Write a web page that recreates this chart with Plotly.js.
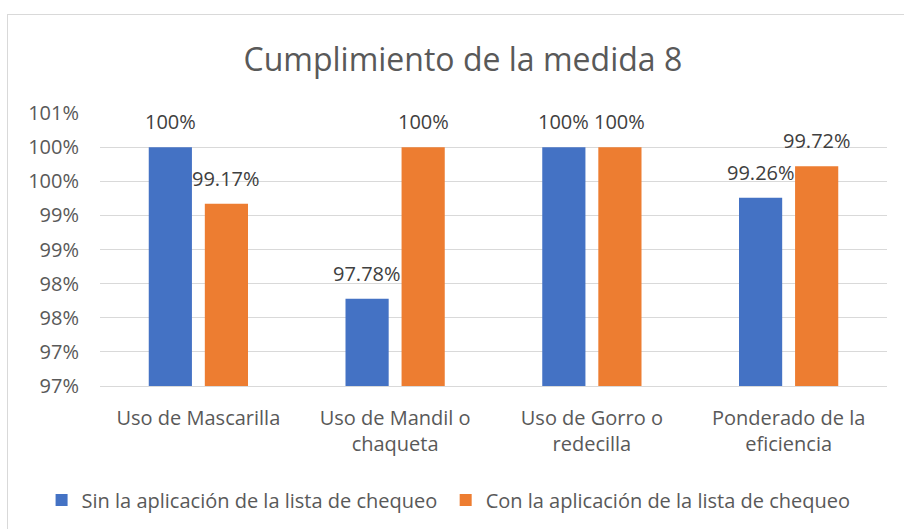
<!DOCTYPE html>
<html>
<head>
<meta charset="utf-8">
<script src="https://cdn.plot.ly/plotly-3.0.1.min.js"></script>
<style>
  body { margin: 0; background: #fff; }
  #frame { position: absolute; left: 7px; top: 14px; width: 1000px; height: 600px; border: 1px solid #d9d9d9; }
  #plot { position: absolute; left: 0; top: 0; width: 904px; height: 529px; }
</style>
</head>
<body>
<div id="frame"></div>
<div id="plot"></div>
<script>
// categories (x axis)
let categories = [
    "Uso de Mascarilla",
    "Uso de Mandil o<br>chaqueta",
    "Uso de Gorro o<br>redecilla",
    "Ponderado de la<br>eficiencia"
];

// percentages
let sinValues = [100, 97.78, 100, 99.26];
let conValues = [99.17, 100, 100, 99.72];

// y axis ticks - excel rounds the labels to whole percents
let tickValues = [96.5, 97, 97.5, 98, 98.5, 99, 99.5, 100, 100.5];
let tickLabels = ["97%", "97%", "98%", "98%", "99%", "99%", "100%", "100%", "101%"];

// label text like excel shows it
function pctLabel(v) {
    return (v === Math.round(v) ? v.toString() : v.toFixed(2)) + "%";
}

let sinTrace = {
    x: categories,
    y: sinValues,
    name: "Sin la aplicación de la lista de chequeo",
    type: "bar",
    marker: { color: "#4472C4" },
    legend: "legend",
    hoverinfo: "none"
};

let conTrace = {
    x: categories,
    y: conValues,
    name: "Con la aplicación de la lista de chequeo",
    type: "bar",
    marker: { color: "#ED7D31" },
    legend: "legend2",
    hoverinfo: "none"
};

let data = [sinTrace, conTrace];

// data labels sit a bit higher above the bars than plotly's outside text,
// so use annotations anchored on the values, shifted to each bar of the group
function valueLabels(values, shift) {
    return values.map((v, i) => ({
        x: categories[i],
        y: v,
        xref: "x",
        yref: "y",
        text: pctLabel(v),
        showarrow: false,
        xanchor: "center",
        yanchor: "bottom",
        xshift: shift,
        yshift: 10,
        font: { size: 20, color: "#404040" }
    }));
}

// one legend per series so both fit on a single row like excel
function legendAt(x) {
    return {
        orientation: "h",
        xref: "container",
        yref: "container",
        x: x,
        xanchor: "left",
        y: 0.055,
        yanchor: "middle",
        font: { size: 20, color: "#595959" }
    };
}

let layout = {
    width: 904,
    height: 529,
    paper_bgcolor: "rgba(0,0,0,0)",
    plot_bgcolor: "rgba(0,0,0,0)",
    font: { family: "'Open Sans', sans-serif", color: "#595959", size: 20 },
    title: {
        text: "Cumplimiento de la medida 8",
        font: { size: 32, color: "#595959" },
        x: 0.512,
        xanchor: "center",
        y: 0.887,
        yanchor: "middle"
    },
    barmode: "group",
    bargap: 0.43,
    bargroupgap: 0.23,
    showlegend: true,
    legend: legendAt(0.046),
    legend2: legendAt(0.493),
    annotations: valueLabels(sinValues, -28).concat(valueLabels(conValues, 28)),
    xaxis: {
        showline: true,
        linecolor: "#d9d9d9",
        linewidth: 1,
        ticks: "",
        ticklabelstandoff: 14,
        tickfont: { size: 20, color: "#595959" },
        fixedrange: true
    },
    yaxis: {
        range: [96.5, 100.5],
        tickvals: tickValues,
        ticktext: tickLabels,
        showgrid: true,
        gridcolor: "#d9d9d9",
        gridwidth: 1,
        zeroline: false,
        showline: false,
        ticks: "",
        ticklabelstandoff: 20,
        tickfont: { size: 20, color: "#595959" },
        fixedrange: true
    },
    margin: { l: 100, r: 17, t: 113, b: 143, pad: 0, autoexpand: false }
};

Plotly.newPlot("plot", data, layout, { displayModeBar: false, staticPlot: true });
</script>
</body>
</html>
